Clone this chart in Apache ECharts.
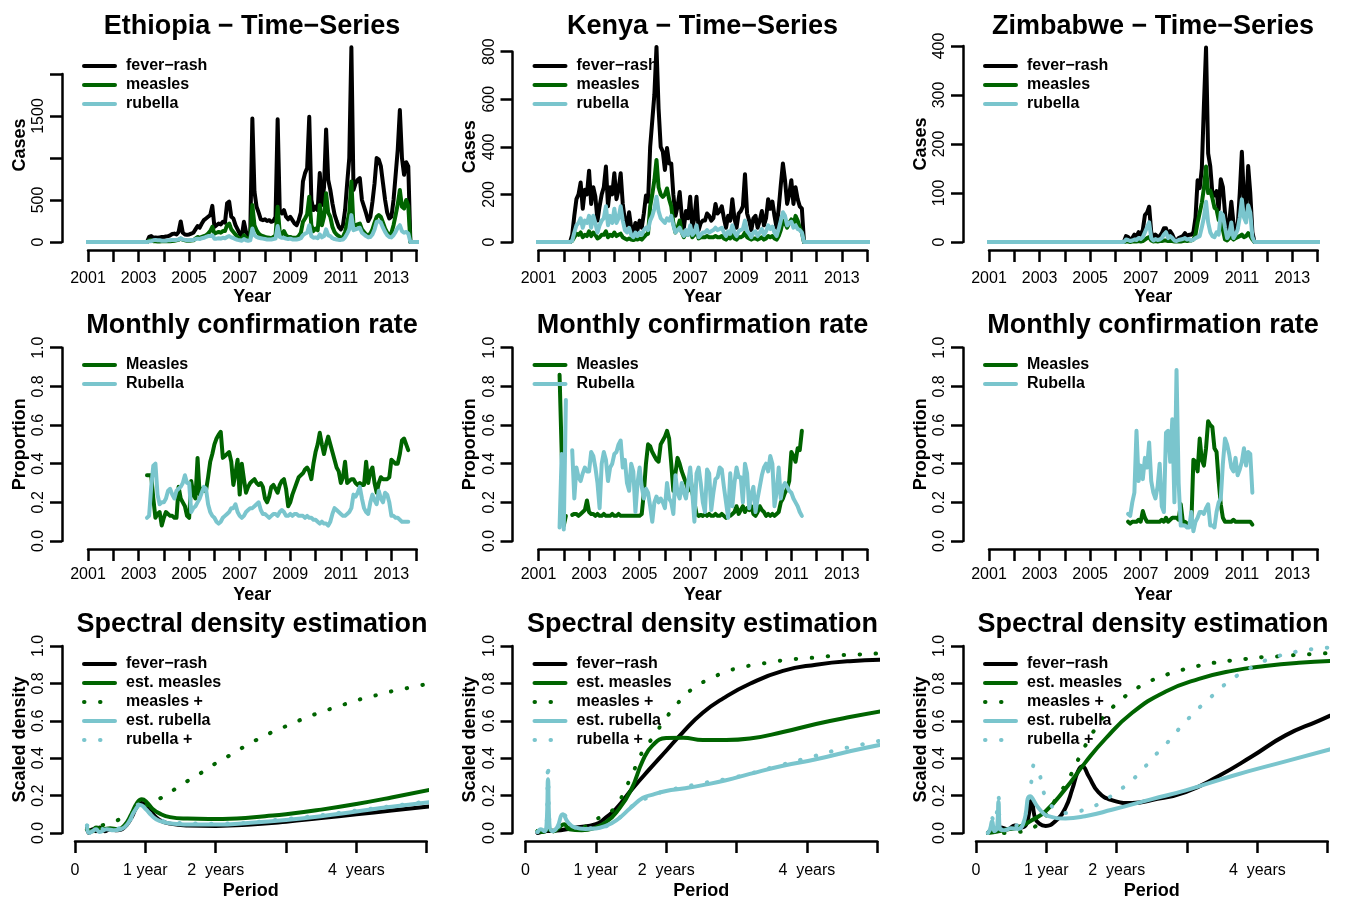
<!DOCTYPE html>
<html>
<head>
<meta charset="utf-8">
<script src="https://cdn.jsdelivr.net/npm/echarts@6/dist/echarts.min.js"></script>
<style>
  html, body { margin: 0; padding: 0; background: #fff; }
  #chart { width: 1351px; height: 901px; }
</style>
</head>
<body>
<div id="chart"></div>
<script>
// ---- time-series: monthly case counts (first reported month given as decimal year) ----
const tsSpan = [2000.5, 2014.42];

const ethStart = 2003.417;
const ethFever = [
  60, 70, 50, 55, 50, 55, 60,
  60, 65, 70, 80, 95, 100, 90, 120, 245, 110, 90, 85,
  90, 100, 110, 150, 190, 170, 220, 260, 280, 300, 320, 430,
  180, 200, 220, 210, 240, 230, 460, 480, 300, 280, 200, 150,
  100, 70, 240, 120, 80, 100, 1470, 600, 420, 350, 270, 260,
  270, 250, 260, 240, 250, 300, 1460, 380, 340, 380, 300, 270,
  300, 260, 220, 200, 260, 350, 720, 820, 880, 1490, 500, 380,
  420, 380, 820, 440, 650, 1340, 740, 620, 460, 330, 250, 180,
  150, 200, 380, 700, 1000, 2317, 620, 700, 740, 760, 500, 420,
  340, 250, 300, 480, 700, 1000, 980, 900, 700, 500, 350, 280,
  300, 500, 800, 1100, 1570, 1000, 800, 950, 900
];
const ethMeasles = [
  20, 20, 10, 8, 6, 6, 8,
  8, 8, 9, 10, 12, 15, 20, 25, 40, 25, 20, 15,
  15, 18, 20, 40, 60, 50, 60, 70, 80, 100, 130, 180,
  100, 110, 120, 110, 130, 130, 200, 220, 150, 120, 90, 60,
  40, 30, 80, 50, 40, 50, 440, 200, 140, 100, 80, 70,
  60, 55, 50, 45, 60, 80, 420, 110, 90, 130, 80, 60,
  60, 50, 50, 50, 70, 110, 240, 280, 330, 540, 200, 130,
  160, 140, 440, 200, 300, 580, 350, 300, 180, 120, 90, 70,
  50, 60, 120, 230, 350, 720, 190, 200, 210, 220, 150, 120,
  90, 80, 100, 150, 230, 300, 320, 300, 230, 160, 110, 90,
  110, 200, 320, 450, 620, 420, 400, 500, 430
];
const ethRubella = [
  8, 10, 20, 25, 20, 20, 15,
  15, 15, 20, 20, 25, 25, 25, 30, 45, 30, 25, 20,
  20, 25, 25, 35, 40, 35, 45, 50, 60, 70, 70, 80,
  40, 40, 45, 40, 50, 45, 60, 70, 55, 45, 35, 25,
  20, 15, 35, 20, 15, 20, 160, 80, 60, 50, 45, 40,
  35, 30, 30, 30, 35, 40, 190, 60, 50, 50, 40, 35,
  40, 30, 30, 30, 35, 45, 80, 100, 110, 200, 70, 50,
  55, 45, 90, 55, 70, 150, 80, 70, 45, 35, 30, 25,
  25, 30, 55, 100, 150, 320, 140, 150, 160, 170, 110, 90,
  70, 55, 60, 90, 150, 240, 250, 230, 170, 120, 80, 60,
  55, 80, 120, 170, 200, 130, 110, 120, 100
];

const kenStart = 2002.333;
const kenFever = [
  30, 110, 180, 200, 250, 140, 220, 200,
  300, 160, 230, 190, 90, 150, 200, 230, 317, 150, 230, 200,
  289, 180, 220, 289, 160, 90, 70, 125, 60, 40, 80, 50,
  90, 60, 120, 195, 170, 400, 510, 620, 820, 560, 400, 380,
  303, 395, 330, 330, 200, 110, 150, 210, 110, 60, 130, 100,
  190, 60, 100, 190, 50, 80, 90, 90, 120, 110, 90, 100,
  160, 120, 130, 150, 100, 60, 110, 90, 180, 100, 60, 120,
  130, 150, 285, 120, 90, 50, 100, 110, 60, 90, 130, 70,
  100, 180, 140, 170, 110, 60, 140, 240, 330, 260, 160, 200,
  260, 160, 230, 180, 150, 140
];
const kenMeasles = [
  5, 20, 35, 30, 40, 20, 30, 25,
  45, 25, 40, 30, 15, 20, 30, 30, 45, 20, 30, 25,
  40, 25, 30, 35, 20, 15, 10, 15, 10, 8, 12, 10,
  15, 10, 20, 30, 35, 150, 200, 260, 345, 230, 200, 190,
  200, 225, 180, 150, 80, 40, 60, 90, 40, 20, 40, 30,
  60, 20, 30, 50, 15, 20, 20, 20, 25, 20, 20, 20,
  25, 20, 20, 25, 15, 10, 20, 15, 30, 15, 10, 20,
  20, 25, 40, 20, 15, 10, 15, 15, 10, 15, 20, 10,
  15, 25, 20, 25, 15, 10, 25, 50, 90, 80, 60, 80,
  95, 70, 110, 90, 60, 40
];
const kenRubella = [
  5, 40, 70, 80, 100, 60, 90, 80,
  110, 60, 110, 80, 40, 70, 90, 100, 150, 70, 110, 80,
  140, 80, 100, 150, 90, 50, 40, 60, 30, 20, 40, 25,
  40, 30, 50, 60, 50, 90, 110, 140, 190, 130, 100, 90,
  80, 100, 90, 110, 70, 40, 50, 60, 40, 25, 50, 30,
  70, 30, 40, 70, 20, 30, 40, 40, 50, 40, 45, 50,
  60, 50, 55, 60, 40, 25, 45, 35, 70, 40, 25, 45,
  50, 55, 90, 45, 35, 20, 40, 45, 25, 40, 55, 30,
  45, 70, 55, 65, 40, 25, 55, 90, 125, 110, 70, 80,
  85, 60, 70, 55, 50, 40
];

const zimStart = 2006.417;
const zimFever = [
  12, 10, 5, 8, 15, 12, 20,
  15, 25, 55, 60, 72, 20, 8, 15, 10, 12, 18, 28,
  28, 15, 22, 15, 5, 3, 8, 10, 12, 18, 12, 15,
  15, 20, 50, 126, 110, 150, 280, 397, 181, 155, 100, 95,
  104, 66, 128, 112, 60, 15, 40, 82, 40, 20, 30, 100,
  184, 86, 60, 155, 100, 20
];
const zimMeasles = [
  1, 1, 0, 1, 1, 1, 2,
  1, 2, 5, 8, 10, 3, 1, 2, 1, 2, 2, 3,
  3, 2, 2, 2, 1, 1, 1, 1, 2, 3, 2, 3,
  3, 5, 15, 40, 60, 80, 110, 154, 100, 105, 90, 70,
  66, 45, 40, 25, 5, 3, 8, 10, 5, 8, 10, 12,
  15, 10, 12, 18, 12, 5
];
const zimRubella = [
  5, 4, 2, 3, 5, 4, 8,
  6, 10, 20, 30, 40, 8, 3, 6, 4, 5, 8, 15,
  20, 8, 12, 8, 3, 2, 4, 5, 6, 8, 5, 6,
  3, 5, 8, 10, 12, 30, 50, 82, 40, 20, 12, 10,
  20, 15, 60, 55, 30, 8, 15, 40, 8, 15, 25, 50,
  87, 50, 40, 75, 60, 10
];

// ---- monthly confirmation rate (null = month without tested cases) ----
const ethRateStart = 2003.333;
const ethRateMeasles = [
  .34, .34, .34, .22, .12, .14, .15, .08,
  .12, .15, .14, .13, .13, .12, .12, .28, .22, .2, .18, .13,
  .12, .31, .24, .22, .43, .24, .27, .26, .26, .33, .41, .45,
  .5, .53, .55, .565, .43, .44, .45, .46, .41, .29, .35, .42,
  .24, .4, .32, .25, .28, .3, .31, .32, .3, .29, .3, .28,
  .22, .2, .23, .28, .29, .27, .25, .29, .31, .32, .27, .18,
  .2, .24, .27, .3, .33, .34, .35, .37, .38, .36, .32, .4,
  .46, .5, .56, .5, .45, .5, .54, .5, .46, .42, .38, .36,
  .3, .33, .41, .3, .31, .32, .32, .3, .29, .3, .29, .29,
  .41, .3, .36, .38, .3, .25, .3, .33, .32, .32, .32, .33,
  .42, .41, .4, .4, .45, .52, .53, .5, .47
];
const ethRateRubella = [
  .12, .13, .28, .39, .4, .24, .19, .2,
  .2, .22, .26, .27, .24, .22, .26, .27, .28, .3, .34, .3,
  .3, .15, .17, .18, .2, .22, .25, .28, .27, .19, .15, .13,
  .12, .1, .09, .1, .12, .13, .14, .15, .17, .17, .19, .15,
  .13, .12, .13, .15, .16, .17, .17, .18, .19, .2, .16, .14,
  .14, .13, .12, .13, .14, .14, .13, .15, .16, .15, .13, .13,
  .14, .13, .14, .14, .13, .13, .13, .12, .13, .12, .12, .11,
  .11, .1, .09, .1, .09, .09, .08, .1, .14, .17, .16, .15,
  .14, .13, .13, .14, .15, .17, .24, .23, .25, .28, .22, .17,
  .15, .14, .2, .24, .21, .19, .26, .22, .2, .25, .24, .2,
  .13, .13, .12, .12, .11, .1, .1, .1, .1
];

const kenRateStart = 2001.833;
const kenRateMeasles = [
  .86, .46, .08, .13, null, null,
  .135, .14, .14, .13, .14, .15, .16, .21,
  .15, .14, .14, .13, .14, .13, .13, .14, .13, .13, .13, .14,
  .13, .13, .14, .13, .13, .13, .13, .13, .13, .13, .13, .13,
  .13, .14, .25, .4, .5, .49, .46, .44, .42, .41, .5, .52,
  .54, .57, .53, .4, .26, .35, .43, .4, .36, .33, .3, .26,
  .34, .25, .2, .14, .13, .135, .13, .14, .13, .14, .13, .13,
  .14, .13, .13, .14, .13, .12, .13, .13, .14, .15, .18, .14,
  .16, .18, .15, .17, .16, .18, .14, .13, .15, .18, .16, .15,
  .13, .14, .13, .14, .13, .14, .15, .2, .22, .25, .27, .31,
  .46, .44, .41, .48, .47, .57
];
const kenRateRubella = [
  .07, .45, .06, .73, null, null,
  .47, .22, .38, .33, .31, .35, .38, .36,
  .36, .46, .44, .38, .3, .17, .4, .46, .42, .31, .38, .4,
  .45, .46, .5, .52, .38, .42, .3, .26, .4, .36, .15, .3,
  .38, .28, .22, .27, .25, .18, .1, .2, .23, .2, .22, .2,
  .17, .3, .22, .2, .14, .34, .25, .22, .3, .25, .22, .3,
  .38, .25, .1, .35, .38, .3, .2, .15, .37, .35, .16, .25,
  .32, .33, .38, .37, .28, .2, .12, .35, .18, .3, .38, .33,
  .33, .2, .4, .35, .17, .24, .28, .15, .22, .28, .34, .38,
  .4, .36, .44, .4, .18, .25, .38, .22, .28, .3, .28, .26,
  .25, .22, .2, .18, .15, .13
];

const zimRateStart = 2006.5;
const zimRateMeasles = [
  .1, .09, .1, .1, .1, .11,
  .1, .155, .12, .1, .1, .1, .1, .1, .1, .1, .11, .1,
  .12, .1, .11, .12, .12, .12, .11, .19, .1, .1, .09, .09,
  .08, .42, .41, .36, .53, .42, .39, .48, .62, .6, .59, .48,
  .46, .31, .19, .12, .1, .1, .1, .1, .11, .1, .1, .1,
  .1, .1, .1, .1, .1, .085
];
const zimRateRubella = [
  .14, .13, .2, .25, .57, .31,
  .39, .32, .43, .38, .51, .31, .25, .22, .28, .4, .18, .15,
  .56, .57, .41, .63, .2, .885, .3, .08, .08, .08, .07, .07,
  .15, .05, .1, .12, .15, .15, .14, .17, .19, .08, .08, .07,
  .15, .2, .22, .4, .53, .5, .45, .38, .36, .43, .34, .37,
  .41, .48, .39, .46, .45, .25
];

// ---- spectral density: [period in years, scaled density] ----
const ethSpecFever = [[0.17,0.03],[0.2,0.0],[0.25,0.02],[0.3,0.01],[0.35,0.03],[0.42,0.01],[0.5,0.02],[0.6,0.015],[0.7,0.03],[0.8,0.08],[0.88,0.14],[0.95,0.16],[1.02,0.145],[1.1,0.105],[1.2,0.07],[1.35,0.05],[1.6,0.04],[2.0,0.038],[2.5,0.045],[3.0,0.06],[3.5,0.08],[4.0,0.1],[4.5,0.12],[5.2,0.148]];
const ethSpecMeasles = [[0.17,0.02],[0.25,0.01],[0.3,0.03],[0.4,0.02],[0.5,0.025],[0.6,0.02],[0.7,0.04],[0.8,0.1],[0.88,0.16],[0.95,0.18],[1.02,0.165],[1.1,0.13],[1.2,0.105],[1.35,0.085],[1.6,0.077],[1.9,0.075],[2.3,0.078],[2.7,0.09],[3.0,0.1],[3.5,0.125],[4.0,0.155],[4.5,0.19],[5.2,0.243]];
const ethSpecMeaslesUp = [[0.17,0.02],[0.38,0.04],[0.59,0.066],[0.8,0.105],[1.0,0.145],[1.21,0.185],[1.41,0.232],[1.6,0.278],[1.8,0.323],[1.99,0.37],[2.19,0.413],[2.39,0.458],[2.59,0.5],[2.8,0.539],[3.01,0.573],[3.22,0.607],[3.44,0.639],[3.66,0.667],[3.88,0.694],[4.1,0.72],[4.33,0.741],[4.55,0.762],[4.78,0.779],[5.01,0.797],[5.2,0.81]];
const ethSpecRubella = [[0.17,0.04],[0.2,0.0],[0.25,0.01],[0.3,0.02],[0.35,0.005],[0.45,0.02],[0.55,0.015],[0.65,0.02],[0.75,0.05],[0.85,0.12],[0.93,0.15],[1.0,0.13],[1.1,0.09],[1.2,0.065],[1.4,0.05],[1.7,0.045],[2.0,0.045],[2.5,0.055],[3.0,0.07],[3.5,0.09],[4.0,0.115],[4.5,0.14],[5.2,0.172]];
const ethSpecRubellaUp = [[0.17,0.04],[0.3,0.025],[0.5,0.02],[0.75,0.055],[0.93,0.155],[1.1,0.095],[1.4,0.055],[2.0,0.05],[3.0,0.075],[4.0,0.12],[5.2,0.178]];

const kenSpecFever = [[0.17,0.0],[0.3,0.01],[0.5,0.015],[0.72,0.03],[1.0,0.047],[1.15,0.085],[1.29,0.13],[1.5,0.228],[1.76,0.34],[2.0,0.44],[2.24,0.54],[2.52,0.643],[2.81,0.72],[3.19,0.798],[3.66,0.867],[4.13,0.9],[4.61,0.919],[5.2,0.928]];
const kenSpecMeasles = [[0.17,0.01],[0.25,0.005],[0.32,0.02],[0.4,0.01],[0.48,0.03],[0.55,0.047],[0.62,0.02],[0.8,0.015],[1.0,0.03],[1.15,0.06],[1.29,0.11],[1.5,0.23],[1.67,0.39],[1.81,0.47],[2.0,0.508],[2.24,0.51],[2.52,0.497],[2.85,0.497],[3.19,0.505],[3.66,0.54],[4.13,0.583],[4.61,0.62],[5.2,0.66]];
const kenSpecMeaslesUp = [[0.17,0.01],[0.4,0.01],[0.6,0.03],[0.8,0.03],[0.93,0.06],[1.14,0.1],[1.29,0.145],[1.5,0.3],[1.67,0.44],[1.83,0.52],[1.95,0.59],[2.09,0.66],[2.24,0.724],[2.41,0.781],[2.62,0.824],[2.83,0.859],[3.04,0.884],[3.27,0.9],[3.5,0.914],[3.73,0.927],[3.97,0.934],[4.2,0.941],[4.43,0.95],[4.66,0.953],[4.9,0.958],[5.2,0.963]];
const kenSpecRubella = [[0.17,0.005],[0.22,0.02],[0.27,0.01],[0.3,0.05],[0.32,0.288],[0.34,0.05],[0.38,0.01],[0.45,0.03],[0.53,0.1],[0.6,0.06],[0.7,0.03],[0.85,0.022],[1.0,0.024],[1.15,0.04],[1.29,0.067],[1.5,0.136],[1.67,0.188],[1.81,0.205],[2.0,0.225],[2.24,0.238],[2.52,0.256],[2.85,0.282],[3.19,0.316],[3.66,0.36],[4.13,0.394],[4.61,0.437],[5.2,0.483]];
const kenSpecRubellaUp = [[0.17,0.005],[0.3,0.05],[0.32,0.37],[0.34,0.05],[0.45,0.03],[0.53,0.1],[0.7,0.03],[1.0,0.026],[1.29,0.07],[1.5,0.14],[1.8,0.2],[2.0,0.225],[2.5,0.265],[3.0,0.3],[3.5,0.35],[4.0,0.4],[4.5,0.45],[5.2,0.505]];

const zimSpecFever = [[0.17,0.0],[0.25,0.02],[0.3,0.01],[0.35,0.03],[0.45,0.02],[0.55,0.04],[0.65,0.03],[0.72,0.05],[0.79,0.176],[0.84,0.08],[0.9,0.05],[0.99,0.038],[1.13,0.064],[1.27,0.133],[1.37,0.236],[1.45,0.33],[1.51,0.357],[1.6,0.305],[1.74,0.219],[1.93,0.176],[2.22,0.16],[2.5,0.176],[2.98,0.219],[3.45,0.305],[3.92,0.409],[4.4,0.522],[4.87,0.6],[5.2,0.655]];
const zimSpecMeasles = [[0.17,0.0],[0.32,0.009],[0.45,0.02],[0.6,0.03],[0.8,0.07],[0.99,0.116],[1.27,0.236],[1.55,0.375],[1.84,0.504],[2.22,0.643],[2.69,0.755],[3.17,0.824],[3.64,0.867],[4.11,0.893],[4.59,0.91],[5.2,0.922]];
const zimSpecMeaslesUp = [[0.17,0.0],[0.4,0.0],[0.6,0.005],[0.82,0.03],[0.99,0.09],[1.1,0.16],[1.22,0.228],[1.34,0.305],[1.44,0.383],[1.54,0.457],[1.65,0.53],[1.78,0.607],[1.93,0.668],[2.1,0.725],[2.29,0.775],[2.49,0.815],[2.71,0.847],[2.93,0.872],[3.15,0.893],[3.38,0.91],[3.62,0.922],[3.84,0.931],[4.08,0.941],[4.31,0.945],[4.54,0.952],[4.78,0.957],[5.01,0.962],[5.2,0.965]];
const zimSpecRubella = [[0.17,0.0],[0.2,0.02],[0.23,0.064],[0.26,0.01],[0.3,0.03],[0.32,0.167],[0.34,0.02],[0.4,0.015],[0.5,0.025],[0.6,0.022],[0.68,0.06],[0.77,0.197],[0.89,0.133],[1.03,0.09],[1.27,0.078],[1.55,0.09],[1.93,0.124],[2.5,0.181],[2.98,0.228],[3.64,0.305],[4.4,0.383],[5.2,0.464]];
const zimSpecRubellaUp = [[0.17,0.0],[0.23,0.08],[0.26,0.01],[0.32,0.19],[0.34,0.02],[0.5,0.03],[0.68,0.08],[0.79,0.28],[0.83,0.366],[0.91,0.305],[0.96,0.219],[1.08,0.142],[1.25,0.107],[1.46,0.116],[1.7,0.147],[1.89,0.19],[2.08,0.24],[2.26,0.297],[2.41,0.357],[2.56,0.421],[2.72,0.483],[2.87,0.55],[3.02,0.612],[3.19,0.676],[3.36,0.734],[3.52,0.789],[3.71,0.841],[3.91,0.884],[4.11,0.922],[4.33,0.95],[4.56,0.97],[4.8,0.984],[5.02,0.992],[5.2,0.996]];

// ---- axis ticks / labels ----
const countries = ['Ethiopia', 'Kenya', 'Zimbabwe'];
const caseMax = [2000, 800, 400];
const caseStep = [500, 200, 100];
const caseHidden = [[1000, 2000], [], []];
const periodLabels = ['0', '1 year', '2  years', '', '4  years', ''];

// ---- look ----
const FONT = "'Liberation Sans', Arial, Helvetica, sans-serif";
const BLACK = '#000000', GREEN = '#006400', BLUE = '#7AC5CD';
const DOTS = [0.5, 15.5];
const colShift = [0, 450.5, 901];
const caseTop = [74, 51.7, 46];

function monthly(start, values) {
  return values.map((v, i) => [start + i / 12, v === null ? '-' : v]);
}

// counts are zero outside the reported window
function withZeros(start, values) {
  const end = start + values.length / 12;
  return [[tsSpan[0], 0], [start - 1 / 12, 0]].concat(monthly(start, values), [[end, 0], [tsSpan[1], 0]]);
}

const grids = [], xAxes = [], yAxes = [], series = [], titles = [], legends = [];

const axisLine = { show: true, onZero: false, lineStyle: { color: '#000', width: 2.5 } };
const axisTick = { show: true, length: 12, lineStyle: { color: '#000', width: 2.5 } };
const nameStyle = { fontSize: 18, fontWeight: 'bold', color: '#000', fontFamily: FONT };
const labelStyle = { fontSize: 16, color: '#000', fontFamily: FONT };

function lineSeries(name, color, data, dotted, smooth) {
  return {
    name: name, type: 'line', data: data, color: color,
    symbol: 'none', showSymbol: false, clip: false, silent: true,
    smooth: smooth ? 0.5 : false,
    itemStyle: { color: color },
    lineStyle: { color: color, width: 4, type: dotted ? DOTS : 'solid', cap: 'round', join: 'round' },
    emphasis: { disabled: true }
  };
}

function addPanel(col, p) {
  const idx = grids.length;
  const dx = colShift[col];
  grids.push({ left: p.left + dx, top: p.top, width: p.width, height: p.bottom - p.top });
  xAxes.push({
    gridIndex: idx, type: 'value', min: p.xMin, max: p.xMax, interval: 1, offset: 8,
    axisLine: axisLine, axisTick: axisTick, splitLine: { show: false },
    axisLabel: Object.assign({ margin: p.xMargin, formatter: p.xFormat, showMinLabel: true, showMaxLabel: true }, labelStyle),
    name: p.xName, nameLocation: 'middle', nameGap: p.xGap, nameTextStyle: nameStyle
  });
  yAxes.push({
    gridIndex: idx, type: 'value', min: 0, max: p.yMax, interval: p.yStep, offset: p.yOffset,
    axisLine: axisLine, axisTick: axisTick, splitLine: { show: false },
    axisLabel: Object.assign({ rotate: 90, margin: 15, formatter: p.yFormat, showMinLabel: true, showMaxLabel: true }, labelStyle),
    name: p.yName, nameLocation: 'middle', nameGap: 33,
    nameTextStyle: Object.assign({ padding: p.yNamePad || 0 }, nameStyle)
  });
  titles.push({
    text: p.title, left: 252 + dx, top: p.titleTop, textAlign: 'center', padding: 0,
    textStyle: { fontSize: 27, fontWeight: 'bold', color: '#000', fontFamily: FONT }
  });
  legends.push({
    orient: 'vertical', left: 82 + dx, top: p.legendTop, padding: 0, itemGap: 3,
    itemWidth: 31, itemHeight: 16, selectedMode: false,
    data: p.lines.map(l => l.name),
    lineStyle: { width: 4 },
    itemStyle: { opacity: 0 },
    textStyle: { fontSize: 16, fontWeight: 'bold', color: '#000', fontFamily: FONT, padding: [0, 0, 0, 6] }
  });
  p.lines.forEach(l => {
    const s = lineSeries(l.name, l.color, l.data, l.dotted, l.smooth);
    s.xAxisIndex = idx;
    s.yAxisIndex = idx;
    series.push(s);
  });
}

const tsData = [
  [ethStart, ethFever, ethMeasles, ethRubella],
  [kenStart, kenFever, kenMeasles, kenRubella],
  [zimStart, zimFever, zimMeasles, zimRubella]
];
const rateData = [
  [ethRateStart, ethRateMeasles, ethRateRubella],
  [kenRateStart, kenRateMeasles, kenRateRubella],
  [zimRateStart, zimRateMeasles, zimRateRubella]
];
const specData = [
  [ethSpecFever, ethSpecMeasles, ethSpecMeaslesUp, ethSpecRubella, ethSpecRubellaUp],
  [kenSpecFever, kenSpecMeasles, kenSpecMeaslesUp, kenSpecRubella, kenSpecRubellaUp],
  [zimSpecFever, zimSpecMeasles, zimSpecMeaslesUp, zimSpecRubella, zimSpecRubellaUp]
];

const yearFormat = v => (v % 2 === 1 ? String(v) : '');
const propFormat = v => v.toFixed(1);

// row 1: case counts
countries.forEach((c, col) => {
  const [start, f, m, r] = tsData[col];
  addPanel(col, {
    left: 88, width: 328.7, top: caseTop[col], bottom: 242,
    xMin: 2001, xMax: 2014, xMargin: 21, xFormat: yearFormat, xName: 'Year', xGap: 38,
    yMax: caseMax[col], yStep: caseStep[col], yOffset: 26, yName: 'Cases',
    yFormat: v => (caseHidden[col].indexOf(v) >= 0 ? '' : String(v)),
    yNamePad: col === 0 ? [0, 0, 0, 26] : 0,
    title: c + ' \u2212 Time\u2212Series', titleTop: 13, legendTop: 58,
    lines: [
      { name: 'fever\u2212rash', color: BLACK, data: withZeros(start, f) },
      { name: 'measles', color: GREEN, data: withZeros(start, m) },
      { name: 'rubella', color: BLUE, data: withZeros(start, r) }
    ]
  });
});

// row 2: confirmation rate
countries.forEach((c, col) => {
  const [start, m, r] = rateData[col];
  addPanel(col, {
    left: 88, width: 328.7, top: 347.7, bottom: 541,
    xMin: 2001, xMax: 2014, xMargin: 18, xFormat: yearFormat, xName: 'Year', xGap: 37,
    yMax: 1, yStep: 0.2, yOffset: 26, yName: 'Proportion', yFormat: propFormat,
    title: 'Monthly confirmation rate', titleTop: 312, legendTop: 357,
    lines: [
      { name: 'Measles', color: GREEN, data: monthly(start, m) },
      { name: 'Rubella', color: BLUE, data: monthly(start, r) }
    ]
  });
});

// row 3: spectral density
countries.forEach((c, col) => {
  const [f, m, mUp, r, rUp] = specData[col];
  addPanel(col, {
    left: 75, width: 351.7, top: 646, bottom: 839,
    xMin: 0, xMax: 5, xMargin: 22, xFormat: v => periodLabels[Math.round(v)] || '', xName: 'Period', xGap: 41,
    yMax: 1, yStep: 0.2, yOffset: 13, yName: 'Scaled density', yFormat: propFormat,
    title: 'Spectral density estimation', titleTop: 611, legendTop: 656,
    lines: [
      { name: 'fever\u2212rash', color: BLACK, data: f, smooth: true },
      { name: 'est. measles', color: GREEN, data: m, smooth: true },
      { name: 'measles +', color: GREEN, data: mUp, smooth: true, dotted: true },
      { name: 'est. rubella', color: BLUE, data: r, smooth: true },
      { name: 'rubella +', color: BLUE, data: rUp, smooth: true, dotted: true }
    ]
  });
});

const chart = echarts.init(document.getElementById('chart'), null, { renderer: 'canvas' });
chart.setOption({
  animation: false,
  backgroundColor: '#fff',
  textStyle: { fontFamily: FONT },
  title: titles,
  legend: legends,
  grid: grids,
  xAxis: xAxes,
  yAxis: yAxes,
  series: series
});
</script>
</body>
</html>
